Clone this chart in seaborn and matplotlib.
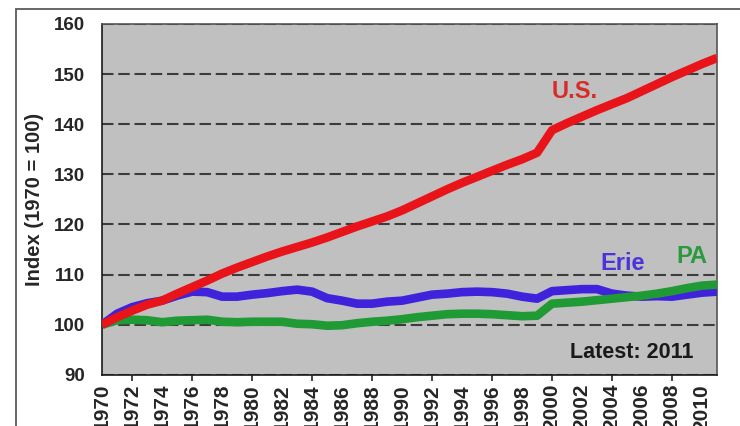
import numpy as np
import pandas as pd
import seaborn as sns
import matplotlib.pyplot as plt
from matplotlib.patches import Rectangle

# data
years = list(range(1970, 2012))
us = [100, 101.5, 102.8, 104.0, 104.8, 106.2, 107.5, 108.8, 110.2, 111.4,
      112.5, 113.6, 114.6, 115.5, 116.4, 117.4, 118.5, 119.6, 120.6, 121.6,
      122.8, 124.2, 125.6, 127.0, 128.3, 129.5, 130.7, 131.9, 133.0, 134.3,
      138.8, 140.2, 141.5, 142.8, 144.0, 145.2, 146.6, 148.0, 149.4, 150.7,
      152.0, 153.2]
erie = [100, 102.2, 103.5, 104.3, 104.8, 105.8, 106.6, 106.5, 105.6, 105.6,
        106.0, 106.3, 106.7, 107.0, 106.6, 105.3, 104.8, 104.2, 104.2, 104.6,
        104.8, 105.4, 106.0, 106.2, 106.5, 106.6, 106.5, 106.2, 105.6, 105.2,
        106.7, 106.9, 107.1, 107.1, 106.2, 105.8, 105.6, 105.7, 105.6, 106.0,
        106.4, 106.6]
pa = [100, 100.9, 101.0, 100.9, 100.5, 100.8, 100.9, 101.0, 100.6, 100.5,
      100.6, 100.6, 100.6, 100.2, 100.1, 99.8, 99.9, 100.3, 100.6, 100.8,
      101.1, 101.5, 101.8, 102.1, 102.2, 102.2, 102.1, 101.9, 101.7, 101.8,
      104.2, 104.4, 104.6, 104.9, 105.2, 105.5, 105.8, 106.2, 106.7, 107.3,
      107.8, 108.0]
series_names = ["Erie", "PA", "U.S."]
series_colors = ["#3f22dc", "#1f9a35", "#e8141a"]
label_colors = ["#4a33d8", "#2a9a3e", "#d92a2a"]
label_pos = [(2004.7, 112.2), (2009.3, 113.6), (2001.5, 146.6)]
long_ticks = list(range(1970, 2011, 4))
short_ticks = list(range(1972, 2011, 4))
yticks = list(range(90, 161, 10))

df = pd.DataFrame({
    "year": years * 3,
    "value": erie + pa + us,
    "series": ["Erie"] * len(years) + ["PA"] * len(years) + ["U.S."] * len(years),
})

sns.set_style("white")
plt.rcParams['font.family'] = ['Liberation Sans', 'DejaVu Sans']
plt.rcParams['font.weight'] = 'bold'

fig = plt.figure(figsize=(7.4, 4.26), dpi=100)
fig.subplots_adjust(left=0.138, right=0.969, top=0.944, bottom=0.12)
ax = fig.add_subplot(111)
ax.set_facecolor("#c0c0c0")

# outer frame of the picture
fig.patches.append(Rectangle((16 / 740, -0.1), 1.2, 1 - 9 / 426 + 0.1,
                             transform=fig.transFigure, fill=False,
                             ec="#5a5a5a", lw=1.3, zorder=0))

ax.grid(axis="y", ls=(0, (5.5, 2.3)), color="#3c3c3c", lw=1.5)
ax.set_axisbelow(True)

sns.lineplot(data=df, x="year", y="value", hue="series", hue_order=series_names,
             palette=series_colors, lw=6.2, legend=False, ax=ax, zorder=3)
for line in ax.get_lines():
    line.set_solid_capstyle("butt")

for name, c, (x, y) in zip(series_names, label_colors, label_pos):
    ax.text(x, y, name, color=c, fontsize=17, fontweight="bold",
            ha="center", va="center")
ax.text(2005.3, 94.4, "Latest: 2011", color="#1a1a1a", fontsize=15.5,
        fontweight="bold", ha="center", va="center")

ax.set_xlim(1970, 2011)
ax.set_ylim(90, 160)
# long ticks every 4 years, short ones in between, a label on each
# (the labels run off the bottom edge, as in the original)
ax.set_xticks(long_ticks)
ax.set_xticklabels([str(t) for t in long_ticks], rotation=90, fontsize=15,
                   fontweight="bold")
ax.set_xticks(short_ticks, minor=True)
ax.set_xticklabels([str(t) for t in short_ticks], minor=True, rotation=90,
                   fontsize=15, fontweight="bold")
ax.tick_params(axis="x", which="major", direction="inout", length=9, width=1.2, pad=2)
ax.tick_params(axis="x", which="minor", direction="out", length=4.5, width=1.2,
               pad=2, bottom=True)
ax.set_yticks(yticks)
ax.set_yticklabels([str(t) for t in yticks], fontsize=13.5, fontweight="bold")
ax.tick_params(axis="y", direction="out", length=5, width=1.2, pad=7)
ax.set_xlabel("")
ax.set_ylabel("Index (1970 = 100)", fontsize=14.5, fontweight="bold")
ax.yaxis.set_label_coords(-0.094, 0.5)

for side in ["left", "bottom"]:
    ax.spines[side].set_color("#1a1a1a")
    ax.spines[side].set_linewidth(1.2)
for side in ["top", "right"]:
    ax.spines[side].set_color("#555555")
    ax.spines[side].set_linewidth(1.2)

fig.savefig("out.png", dpi=100)
